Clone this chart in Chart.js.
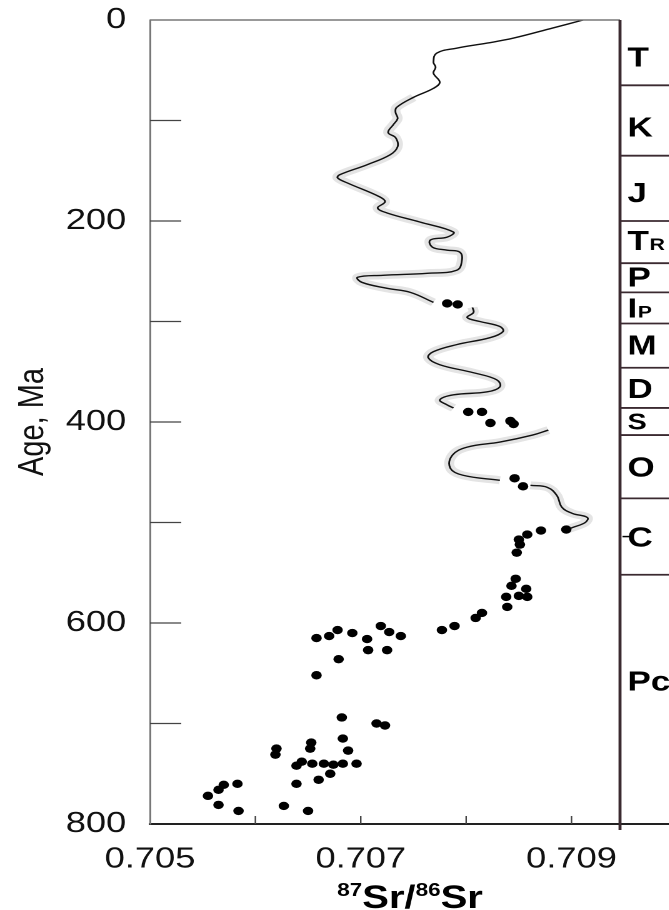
<!DOCTYPE html>
<html>
<head>
<meta charset="utf-8">
<script src="https://cdn.jsdelivr.net/npm/chart.js@4.4.0/dist/chart.umd.min.js"></script>
<style>
  html, body { margin: 0; padding: 0; background: #fff; overflow: hidden; }
  /* the original figure is stretched sideways, so the whole canvas is too */
  #wrap { width: 535px; height: 910px; transform: scaleX(1.25); transform-origin: 0 0; }
</style>
</head>
<body>
<div id="wrap"><canvas id="srChart" width="535" height="910"></canvas></div>
<script>
// seawater 87Sr/86Sr curve, null = break in the curve
const curveSr = [
  0.70911, 0.70882, 0.70845, 0.70820, 0.70791, 0.70772, 0.70769, 0.70771, 0.70769, 0.70775,
  0.70769, 0.70750, 0.70734, 0.70733, 0.70735, 0.70731, 0.70726, 0.70733, 0.70735, 0.70728,
  0.70706, 0.70680, 0.70678, 0.70687, 0.70718, 0.70723, 0.70716, 0.70725, 0.70756, 0.70788,
  0.70782, 0.70766, 0.70768, 0.70782, 0.70794, 0.70796, 0.70791, 0.70763, 0.70721, 0.70697,
  0.70701, 0.70725, 0.70747, 0.70769,
  null,
  0.70806, 0.70807, 0.70801, 0.70813, 0.70832, 0.70835, 0.70823, 0.70791, 0.70769, 0.70764,
  0.70775, 0.70807, 0.70829, 0.70832, 0.70820, 0.70788, 0.70775, 0.70782, 0.70788,
  null,
  0.70878, 0.70863, 0.70832, 0.70801, 0.70787, 0.70785, 0.70797, 0.70832,
  null,
  0.70861, 0.70877, 0.70886, 0.70891, 0.70901, 0.70915, 0.70913, 0.70901, 0.70896
];
const curveAge = [
  0, 8, 18, 23, 28, 33, 42, 47, 53, 62,
  68, 77, 87, 92, 98, 104, 112, 117, 126, 134,
  144, 154, 157, 162, 176, 181, 187, 192, 201, 211,
  216, 219, 226, 229, 231, 239, 249, 252, 254, 256,
  261, 267, 271, 281,
  null,
  286, 291, 296, 300, 305, 310, 316, 323, 330, 336,
  343, 351, 358, 365, 370, 373, 378, 383, 386,
  null,
  408, 413, 420, 425, 433, 446, 453, 458,
  null,
  463, 465, 473, 485, 491, 495, 500, 505, 507
];
const haloFromAge = 70;

// individual samples (dots)
const sampleSr = [
  0.70782, 0.70792, 0.70802, 0.70815, 0.70823, 0.70842, 0.70845, 0.70846, 0.70854,
  0.70895, 0.70871, 0.70858, 0.70850, 0.70851, 0.70848, 0.70847, 0.70843, 0.70857, 0.70850,
  0.70858, 0.70838, 0.70839, 0.70815, 0.70809, 0.70789, 0.70777, 0.70738, 0.70727, 0.70719,
  0.70706, 0.70692, 0.70678, 0.70670, 0.70658, 0.70707, 0.70725, 0.70679, 0.70658, 0.70682,
  0.70715, 0.70723, 0.70653, 0.70652, 0.70683, 0.70688, 0.70620, 0.70619, 0.70644, 0.70639,
  0.70654, 0.70665, 0.70674, 0.70683, 0.70696, 0.70671, 0.70660, 0.70639, 0.70583, 0.70570,
  0.70565, 0.70555, 0.70565, 0.70584, 0.70627, 0.70650
];
const sampleAge = [
  282, 283, 390, 390, 401, 399, 402, 456, 464,
  507, 508, 512, 517, 522, 530, 556, 563, 566, 573,
  574, 574, 584, 590, 595, 603, 607, 613, 609, 603,
  616, 610, 607, 613, 615, 627, 627, 636, 652, 694,
  700, 702, 719, 725, 715, 727, 725, 731, 738, 742,
  740, 740, 741, 740, 740, 750, 756, 760, 760, 761,
  766, 772, 781, 787, 782, 787
];

// geologic column
const periodBounds = [65, 135, 200, 242, 271, 302, 346, 386, 413, 476, 552];
const periodNames = ['T', 'K', 'J', 'T', 'P', 'I', 'M', 'D', 'S', 'O', 'C', 'Pc'];
const periodSubs = ['', '', '', 'R', '', 'P', '', '', '', '', '', ''];
const periodLabelAges = [36, 106, 171, 219, 255, 286, 323, 366, 399, 444, 514, 657];

// axes
const ageTicks = [0, 100, 200, 300, 400, 500, 600, 700, 800];
const ageLabels = [0, 200, 400, 600, 800];
const srTicks = [0.705, 0.706, 0.707, 0.708, 0.709];
const srLabels = ['0.705', '0.707', '0.709'];

const FAMILY = '"Liberation Sans", Arial, Helvetica, sans-serif';

const curvePts = curveSr.map((v, i) => v === null ? { x: null, y: null } : { x: v, y: curveAge[i] });
const haloPts = curvePts.map(p => (p.y !== null && p.y >= haloFromAge) ? p : { x: null, y: null });
const samplePts = sampleSr.map((v, i) => ({ x: v, y: sampleAge[i] }));

function line(ctx, x1, y1, x2, y2) {
  ctx.beginPath();
  ctx.moveTo(x1, y1);
  ctx.lineTo(x2, y2);
  ctx.stroke();
}

const framePlugin = {
  id: 'frame',
  afterDraw(chart) {
    const { ctx, chartArea: a, scales: { x, y }, width } = chart;
    ctx.save();

    // top frame line
    ctx.strokeStyle = '#777';
    ctx.lineWidth = 1.5;
    line(ctx, a.left, a.top, a.right, a.top);

    // inward tick marks
    ctx.strokeStyle = '#444';
    ctx.lineWidth = 1.2;
    ageTicks.forEach(v => {
      if (v > 0 && v < 800) {
        const py = y.getPixelForValue(v);
        line(ctx, a.left, py, a.left + 25, py);
      }
    });
    srTicks.forEach(v => {
      if (v > 0.705) {
        const px = x.getPixelForValue(v);
        line(ctx, px, a.bottom, px, a.bottom - 8);
      }
    });

    // bottom axis runs under the column
    ctx.strokeStyle = '#222';
    ctx.lineWidth = 2;
    line(ctx, a.right, a.bottom, width, a.bottom);

    // geologic column
    ctx.strokeStyle = '#3b2a30';
    ctx.lineWidth = 2.4;
    line(ctx, a.right, a.top, a.right, a.bottom + 6);
    ctx.lineWidth = 1.8;
    periodBounds.forEach(age => {
      const py = y.getPixelForValue(age);
      line(ctx, a.right, py, width, py);
    });

    ctx.fillStyle = '#000';
    ctx.textAlign = 'left';
    ctx.textBaseline = 'alphabetic';
    periodNames.forEach((name, i) => {
      const py = y.getPixelForValue(periodLabelAges[i]);
      const lx = a.right + 6;
      const size = name === 'S' ? 23 : 28;
      ctx.font = 'bold ' + size + 'px ' + FAMILY;
      const base = py + size * 0.36;
      ctx.fillText(name, lx, base);
      const w = ctx.measureText(name).width;
      if (periodSubs[i]) {
        ctx.font = 'bold 17px ' + FAMILY;
        ctx.fillText(periodSubs[i], lx + w + 0.5, base);
      }
      if (name === 'C') {
        ctx.strokeStyle = '#000';
        ctx.lineWidth = 1.5;
        line(ctx, lx - 4, py, lx + 5, py);
      }
    });

    // x axis title with superscripts
    const parts = [['87', 18, -12], ['Sr/', 32, 0], ['86', 18, -12], ['Sr', 32, 0]];
    let total = 0;
    parts.forEach(p => {
      ctx.font = 'bold ' + p[1] + 'px ' + FAMILY;
      total += ctx.measureText(p[0]).width;
    });
    let tx = (a.left + a.right) / 2 + 20 - total / 2;
    const baseY = 908;
    parts.forEach(p => {
      ctx.font = 'bold ' + p[1] + 'px ' + FAMILY;
      ctx.fillText(p[0], tx, baseY + p[2]);
      tx += ctx.measureText(p[0]).width;
    });

    ctx.restore();
  }
};

new Chart(document.getElementById('srChart').getContext('2d'), {
  type: 'scatter',
  data: {
    datasets: [
      { data: haloPts, showLine: true, borderColor: '#e4e4e4', borderWidth: 8, pointRadius: 0, tension: 0.4, order: 3 },
      { data: curvePts, showLine: true, borderColor: '#111', borderWidth: 1.4, pointRadius: 0, tension: 0.4, order: 2 },
      { data: samplePts, pointRadius: 4.2, pointBackgroundColor: '#000', pointBorderWidth: 0, order: 1 }
    ]
  },
  options: {
    responsive: false,
    animation: false,
    devicePixelRatio: 2,
    layout: { padding: { top: 20, right: 39, left: 0, bottom: 0 } },
    plugins: { legend: { display: false }, tooltip: { enabled: false } },
    scales: {
      x: {
        type: 'linear',
        min: 0.705,
        max: 0.70946,
        afterFit: s => { s.height = 86; },
        afterBuildTicks: s => { s.ticks = srTicks.map(v => ({ value: v })); },
        grid: { display: false },
        border: { display: true, color: '#222', width: 2 },
        ticks: {
          padding: 10,
          font: { family: FAMILY, size: 29 },
          color: '#111',
          maxRotation: 0,
          autoSkip: false,
          callback: v => srLabels.includes(v.toFixed(3)) ? v.toFixed(3) : ''
        }
      },
      y: {
        type: 'linear',
        reverse: true,
        min: 0,
        max: 800,
        afterFit: s => { s.width = 120; },
        afterBuildTicks: s => { s.ticks = ageTicks.map(v => ({ value: v })); },
        grid: { display: false },
        border: { display: true, color: '#777', width: 1.5 },
        ticks: {
          padding: 11,
          font: { family: FAMILY, size: 29, lineHeight: 0.5 },
          color: '#111',
          autoSkip: false,
          callback: v => ageLabels.includes(v) ? String(v) : ''
        },
        title: {
          display: true,
          text: 'Age, Ma',
          font: { family: FAMILY, size: 29 },
          color: '#111',
          padding: { top: 9 }
        }
      }
    }
  },
  plugins: [framePlugin]
});
</script>
</body>
</html>
